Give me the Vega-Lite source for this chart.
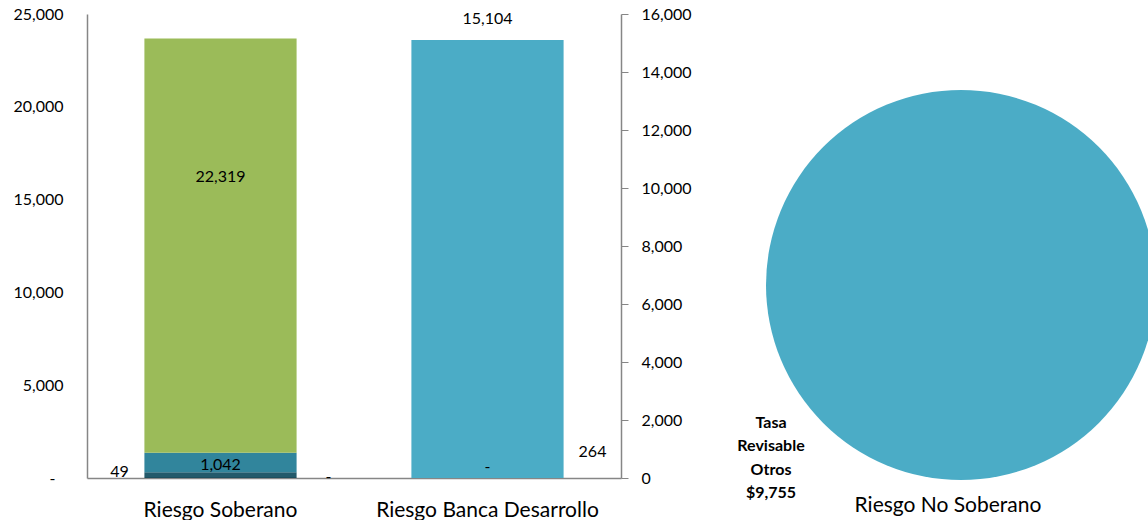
{
  "$schema": "https://vega.github.io/schema/vega-lite/v6.json",
  "padding": {"left": 12, "top": 6, "right": 0, "bottom": 0},
  "config": {
    "view": {"stroke": null},
    "font": "Lato",
    "axis": {"labelFont": "Lato", "labelColor": "#000000", "domainColor": "#868686", "tickColor": "#868686", "grid": false, "title": null}
  },
  "datasets": {
    "barras": [
      {"cat": "Riesgo Soberano", "serie": "Serie 0", "value": 0},
      {"cat": "Riesgo Soberano", "serie": "Serie 1", "value": 49},
      {"cat": "Riesgo Soberano", "serie": "Serie 2", "value": 264},
      {"cat": "Riesgo Soberano", "serie": "Serie 3", "value": 1042},
      {"cat": "Riesgo Soberano", "serie": "Serie 4", "value": 22319},
      {"cat": "Riesgo Banca Desarrollo", "serie": "Serie 1", "value": 0},
      {"cat": "Riesgo Banca Desarrollo", "serie": "Serie 5", "value": 15104}
    ],
    "pastel": [
      {"cat": "Riesgo No Soberano", "tipo": "Tasa Revisable Otros", "value": 9755, "etiqueta": ["Tasa", "Revisable", "Otros", "$9,755"]}
    ]
  },
  "hconcat": [
    {
      "width": 534,
      "height": 464,
      "data": {"name": "barras"},
      "encoding": {
        "x": {
          "field": "cat", "type": "nominal",
          "sort": ["Riesgo Soberano", "Riesgo Banca Desarrollo"],
          "scale": {"domain": ["Riesgo Soberano", "Riesgo Banca Desarrollo"], "paddingInner": 0.43, "paddingOuter": 0.215},
          "axis": {"labelAngle": 0, "ticks": false, "labelFontSize": 21, "labelLimit": 400, "labelPadding": 21, "domainWidth": 1.5}
        }
      },
      "layer": [
        {
          "transform": [{"filter": "datum.cat == 'Riesgo Soberano'"}],
          "layer": [
            {
              "mark": {"type": "bar"},
              "encoding": {
                "y": {
                  "field": "value", "type": "quantitative", "stack": "zero",
                  "scale": {"domain": [0, 25000], "nice": false},
                  "axis": {"orient": "left", "values": [0, 5000, 10000, 15000, 20000, 25000], "labelExpr": "datum.value == 0 ? '-' : format(datum.value, ',')", "ticks": false, "labelPadding": {"condition": {"test": "datum.value == 0", "value": 32}, "value": 24}, "labelFontSize": 16, "domainWidth": 1.5}
                },
                "color": {
                  "field": "serie", "type": "nominal",
                  "scale": {"domain": ["Serie 0", "Serie 1", "Serie 2", "Serie 3", "Serie 4", "Serie 5"], "range": ["#1D4F5E", "#1D4F5E", "#235A6B", "#31859C", "#9BBB59", "#4BACC6"]},
                  "legend": null
                },
                "order": {"field": "serie", "type": "nominal", "sort": "ascending"}
              }
            },
            {
              "transform": [{"filter": "datum.serie == 'Serie 4'"}],
              "mark": {"type": "text", "fontSize": 16, "color": "#000000", "dy": 113},
              "encoding": {"y": {"field": "value", "type": "quantitative", "stack": null}, "text": {"field": "value", "type": "quantitative", "format": ","}}
            },
            {
              "transform": [{"filter": "datum.serie == 'Serie 3'"}],
              "mark": {"type": "text", "fontSize": 16, "color": "#000000", "dy": 6},
              "encoding": {"y": {"field": "value", "type": "quantitative", "stack": null}, "text": {"field": "value", "type": "quantitative", "format": ","}}
            },
            {
              "transform": [{"filter": "datum.serie == 'Serie 1'"}],
              "mark": {"type": "text", "fontSize": 16, "color": "#000000", "dx": -101, "dy": -5},
              "encoding": {"y": {"field": "value", "type": "quantitative", "stack": null}, "text": {"field": "value", "type": "quantitative", "format": ","}}
            },
            {
              "transform": [{"filter": "datum.serie == 'Serie 2'"}],
              "mark": {"type": "text", "fontSize": 16, "color": "#000000", "dx": 372, "dy": -21},
              "encoding": {"y": {"field": "value", "type": "quantitative", "stack": null}, "text": {"field": "value", "type": "quantitative", "format": ","}}
            },
            {
              "transform": [{"filter": "datum.serie == 'Serie 0'"}],
              "mark": {"type": "text", "fontSize": 16, "color": "#000000", "dx": 108, "dy": -1},
              "encoding": {"y": {"field": "value", "type": "quantitative", "stack": null}, "text": {"condition": {"test": "datum.value == 0", "value": "-"}, "field": "value", "type": "quantitative", "format": ","}}
            }
          ]
        },
        {
          "transform": [{"filter": "datum.cat == 'Riesgo Banca Desarrollo'"}],
          "layer": [
            {
              "mark": {"type": "bar"},
              "encoding": {
                "y": {
                  "field": "value", "type": "quantitative", "stack": "zero",
                  "scale": {"domain": [0, 16000], "nice": false},
                  "axis": {"orient": "right", "values": [0, 2000, 4000, 6000, 8000, 10000, 12000, 14000, 16000], "labelExpr": "format(datum.value, ',')", "tickSize": 7, "labelPadding": 13, "labelFontSize": 16, "domainWidth": 1.5}
                },
                "color": {"field": "serie", "type": "nominal", "legend": null},
                "order": {"field": "serie", "type": "nominal", "sort": "ascending"}
              }
            },
            {
              "transform": [{"filter": "datum.serie == 'Serie 5'"}],
              "mark": {"type": "text", "fontSize": 16, "color": "#000000", "dy": -21},
              "encoding": {"y": {"field": "value", "type": "quantitative", "stack": null}, "text": {"field": "value", "type": "quantitative", "format": ","}}
            },
            {
              "transform": [{"filter": "datum.serie == 'Serie 1'"}],
              "mark": {"type": "text", "fontSize": 16, "color": "#000000", "dy": -11},
              "encoding": {"y": {"field": "value", "type": "quantitative", "stack": null}, "text": {"condition": {"test": "datum.value == 0", "value": "-"}, "field": "value", "type": "quantitative", "format": ","}}
            }
          ]
        }
      ],
      "resolve": {"scale": {"y": "independent"}}
    },
    {
      "width": 472,
      "height": 464,
      "data": {"name": "pastel"},
      "title": {"text": "Riesgo No Soberano", "orient": "bottom", "frame": "group", "anchor": "middle", "offset": -6, "fontSize": 21, "font": "Lato", "fontWeight": "normal", "color": "#000000"},
      "layer": [
        {
          "mark": {"type": "arc", "radius": 195, "xOffset": 13, "yOffset": 39, "color": "#4BACC6"},
          "encoding": {"theta": {"field": "value", "type": "quantitative"}}
        },
        {
          "mark": {"type": "text", "font": "Lato", "fontSize": 16, "fontWeight": "bold", "lineHeight": 23.3, "baseline": "top", "dx": -177, "dy": 169, "color": "#000000"},
          "encoding": {"text": {"field": "etiqueta"}}
        }
      ]
    }
  ],
  "spacing": 20
}
